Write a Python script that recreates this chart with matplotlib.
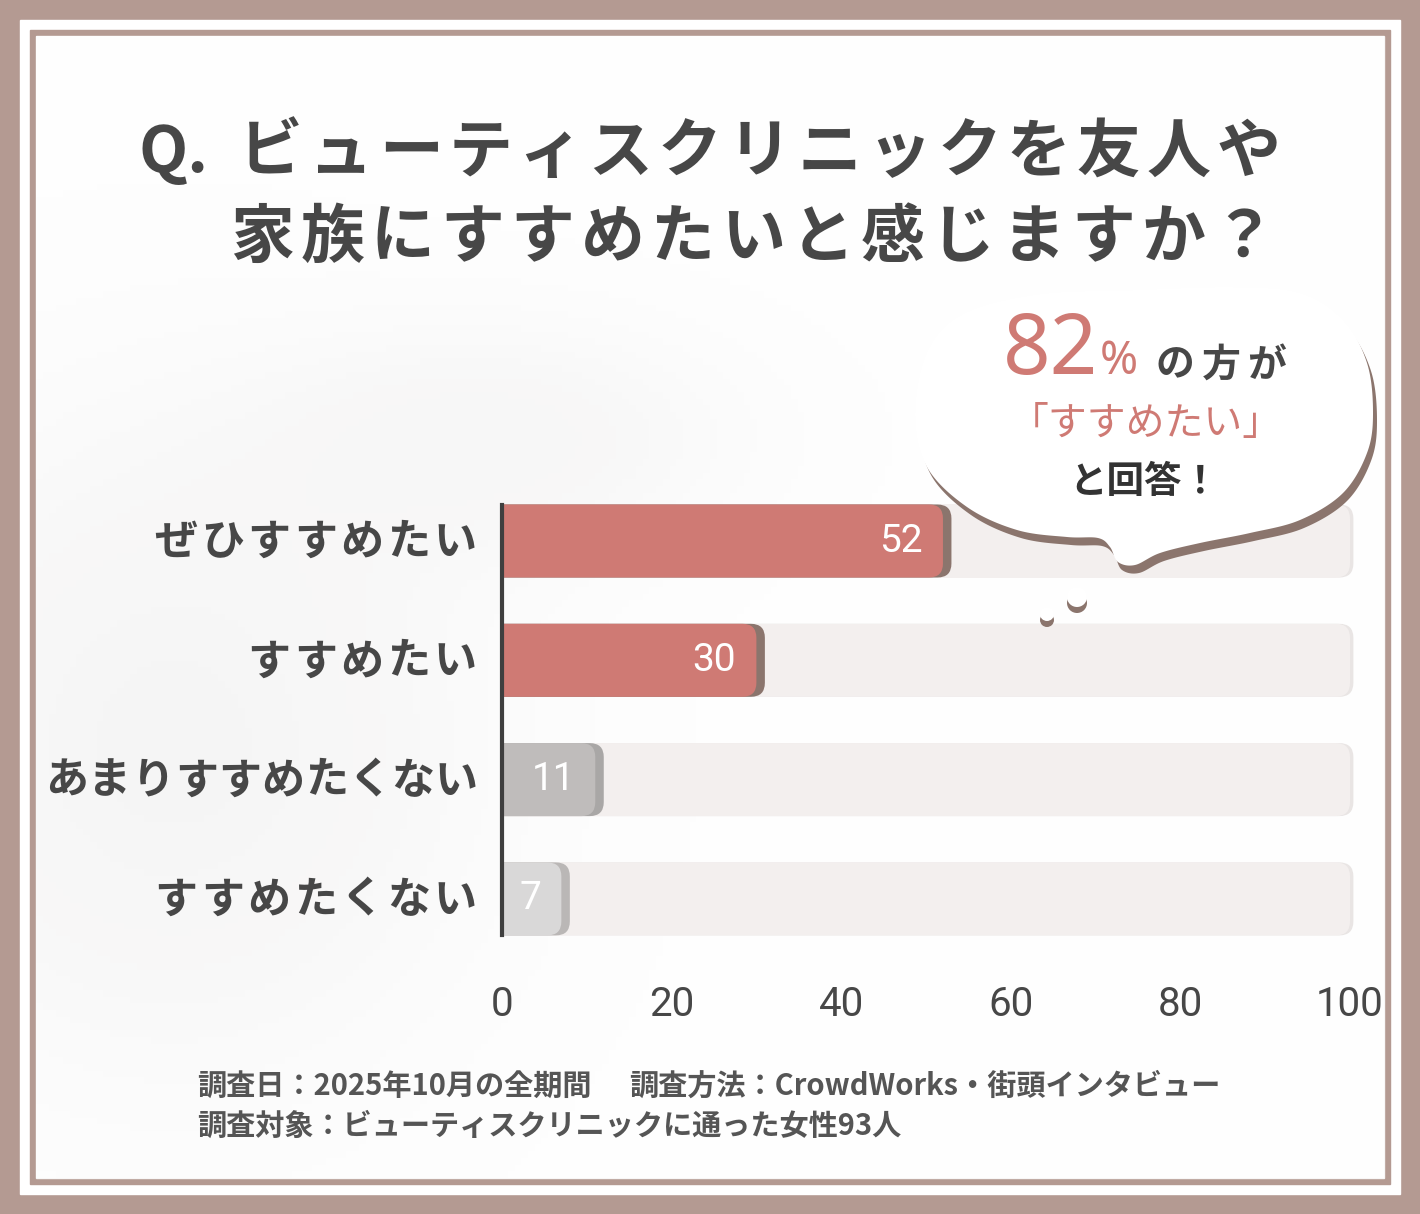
import numpy as np
import matplotlib.pyplot as plt
from matplotlib.patches import FancyBboxPatch, Rectangle, Polygon, Circle

plt.rcParams['font.family'] = ['Noto Sans CJK JP', 'DejaVu Sans']

# data
categories = ['ぜひすすめたい', 'すすめたい', 'あまりすすめたくない', 'すすめたくない']
counts = [52, 30, 11, 7]
x_ticks = [0, 20, 40, 60, 80, 100]
scale_max = 100

title_q = 'Q.'
title_line1 = 'ビューティスクリニックを友人や'
title_line2 = '家族にすすめたいと感じますか？'
bubble_pct = '82'
footer1a = '調査日：2025年10月の全期間'
footer1b = '調査方法：CrowdWorks・街頭インタビュー'
footer2 = '調査対象：ビューティスクリニックに通った女性93人'

bar_colors = ['#cf7a74', '#cf7a74', '#bfbcbb', '#d9d8d8']
shadow_colors = ['#8b756d', '#8b756d', '#a9a7a6', '#bab7b6']
frame = '#b49a92'
dark = '#474747'
red = '#cf7a74'

W, H = 1420, 1214
fig = plt.figure(figsize=(W / 100, H / 100), dpi=100)
fig.patch.set_facecolor(frame)

# background frame (pixel coordinates)
bg = fig.add_axes([0, 0, 1, 1])
bg.set_xlim(0, W)
bg.set_ylim(H, 0)
bg.axis('off')
bg.add_patch(Rectangle((20, 20), 1380, 1174, color='white'))
bg.add_patch(Rectangle((30, 30), 1360, 1154, color=frame))
bg.add_patch(Rectangle((36, 36), 1348, 1142, color='#f8f7f7'))

# soft shading in the background
gx, gy = np.meshgrid(np.linspace(0, 1, 200), np.linspace(0, 1, 170))
shade = 0.5 * np.exp(-((gx - 0.1) ** 2 / 0.05 + (gy - 0.62) ** 2 / 0.08))
shade += 0.35 * np.exp(-((gx - 0.35) ** 2 / 0.03 + (gy - 0.35) ** 2 / 0.01))
bg.imshow(shade, extent=(36, 1384, 1178, 36), cmap='Greys', vmin=0, vmax=6,
          alpha=0.9, aspect='auto', zorder=1)

# title
bg.text(138, 153, title_q, fontsize=46, fontweight='bold', color=dark,
        ha='left', va='center', zorder=3)
for i, ch in enumerate(title_line1):
    bg.text(271 + 69.8 * i, 153, ch, fontsize=46, fontweight='bold', color=dark,
            ha='center', va='center', zorder=3)
for i, ch in enumerate(title_line2):
    bg.text(262 + 70.1 * i, 238, ch, fontsize=46, fontweight='bold', color=dark,
            ha='center', va='center', zorder=3)

# footer
bg.text(197, 1086, footer1a, fontsize=21, fontweight='bold', color='#555555',
        ha='left', va='center', zorder=3)
bg.text(629, 1086, footer1b, fontsize=21, fontweight='bold', color='#555555',
        ha='left', va='center', zorder=3)
bg.text(197, 1126, footer2, fontsize=21, fontweight='bold', color='#555555',
        ha='left', va='center', zorder=3)

# main bar axes
px_per_unit = 8.48
row_px = 119.3
ax = fig.add_axes([502 / W, 1 - 960 / H, 102 * px_per_unit / W, 480 / H])
ax.patch.set_alpha(0)
ax.set_xlim(0, 102)
ax.set_ylim((960 - 541) / row_px, (480 - 541) / row_px)

bar_h = 73 / row_px
r = 14 / px_per_unit
asp = (1 / row_px) / (1 / px_per_unit)
style = f'round,pad=0,rounding_size={r}'

y = np.arange(len(categories))
bars = ax.barh(y, counts, height=bar_h, color='none')
for i, rect in enumerate(bars):
    x0, y0 = rect.get_x(), rect.get_y()
    w, h = rect.get_width(), rect.get_height()
    rect.set_visible(False)
    # background track
    ax.add_patch(FancyBboxPatch((x0 - 3, y0), scale_max + 3.4, h, boxstyle=style,
                                mutation_aspect=asp, fc='#e9e5e4', ec='none', zorder=1))
    ax.add_patch(FancyBboxPatch((x0 - 3, y0), scale_max + 3, h, boxstyle=style,
                                mutation_aspect=asp, fc='#f3efee', ec='none', zorder=1.1))
    # bar with its shadow
    ax.add_patch(FancyBboxPatch((x0 - 3, y0), w + 4, h, boxstyle=style,
                                mutation_aspect=asp, fc=shadow_colors[i], ec='none', zorder=2))
    ax.add_patch(FancyBboxPatch((x0 - 3, y0), w + 3, h, boxstyle=style,
                                mutation_aspect=asp, fc=bar_colors[i], ec='none', zorder=2.1))
    ax.text(w - 2.4, y0 + h / 2, str(counts[i]), ha='right', va='center',
            color='white', fontsize=28, family=['Roboto', 'DejaVu Sans'], zorder=3)

for side in ['top', 'right', 'bottom']:
    ax.spines[side].set_visible(False)
ax.spines['left'].set_bounds(-bar_h / 2, len(categories) - 1 + bar_h / 2)
ax.spines['left'].set_color('#3f3f3f')
ax.spines['left'].set_linewidth(3)
ax.spines['left'].set_zorder(4)

ax.set_xticks(x_ticks)
ax.set_xticklabels([str(t) for t in x_ticks], fontsize=29, color=dark,
                   family=['Roboto', 'DejaVu Sans'])
ax.tick_params(axis='x', length=0, pad=18)
ax.set_yticks(y)
ax.set_yticklabels([])
ax.tick_params(axis='y', length=0)

# category labels, drawn character by character for the wide letter spacing
for i, label in enumerate(categories):
    step = 46.5 if len(label) <= 8 else 43.3
    n = len(label)
    for k, ch in enumerate(label):
        bg.text(478 - step * (n - k - 0.5), 542 + row_px * i, ch, fontsize=31,
                color=dark, ha='center', va='center', fontweight='bold', zorder=3)

# speech bubble on top
fg = fig.add_axes([0, 0, 1, 1], zorder=5)
fg.set_xlim(0, W)
fg.set_ylim(H, 0)
fg.axis('off')
fg.patch.set_alpha(0)

outline = np.array([
    (1133, 290), (1233, 287), (1300, 293), (1343, 320), (1367, 363), (1373, 413),
    (1367, 453), (1343, 493), (1300, 520), (1250, 533), (1200, 543), (1160, 553),
    (1135, 565), (1118, 562), (1110, 547), (1098, 538), (1067, 537), (1017, 530),
    (967, 507), (927, 467), (915, 413), (928, 350), (965, 313), (1040, 294)])


def smooth_closed(pts, n=20):
    out = []
    m = len(pts)
    for k in range(m):
        p0, p1, p2, p3 = pts[k - 1], pts[k], pts[(k + 1) % m], pts[(k + 2) % m]
        for t in np.linspace(0, 1, n, endpoint=False):
            t2, t3 = t * t, t * t * t
            out.append(0.5 * ((2 * p1) + (-p0 + p2) * t + (2 * p0 - 5 * p1 + 4 * p2 - p3) * t2
                              + (-p0 + 3 * p1 - 3 * p2 + p3) * t3))
    return np.array(out)


curve = smooth_closed(outline)
fg.add_patch(Polygon(curve + np.array([4, 8]), closed=True, fc='#8b756d', ec='none'))
fg.add_patch(Polygon(curve, closed=True, fc='white', ec='none'))
for cx, cy, rr in [(1077, 597, 10), (1047, 614, 7)]:
    fg.add_patch(Circle((cx, cy + 6), rr, fc='#8b756d', ec='none'))
    fg.add_patch(Circle((cx, cy), rr, fc='white', ec='none'))

fg.text(1098, 352, bubble_pct, fontsize=60, color=red, ha='right', va='center',
        family=['Noto Sans', 'DejaVu Sans'], fontweight='bold')
fg.text(1100, 362, '%', fontsize=33, color=red, ha='left', va='center',
        family=['Noto Sans', 'DejaVu Sans'], fontweight='bold')
for i, ch in enumerate('の方が'):
    fg.text(1175 + 46 * i, 365, ch, fontsize=28, color=dark, ha='center', va='center',
            fontweight='bold')
fg.text(1146, 424, '「すすめたい」', fontsize=28, color=red, ha='center', va='center')
fg.text(1144, 481, 'と回答！', fontsize=27, color='#333333', ha='center', va='center',
        fontweight='bold')

fig.savefig('out.png', dpi=100, facecolor=fig.get_facecolor())
